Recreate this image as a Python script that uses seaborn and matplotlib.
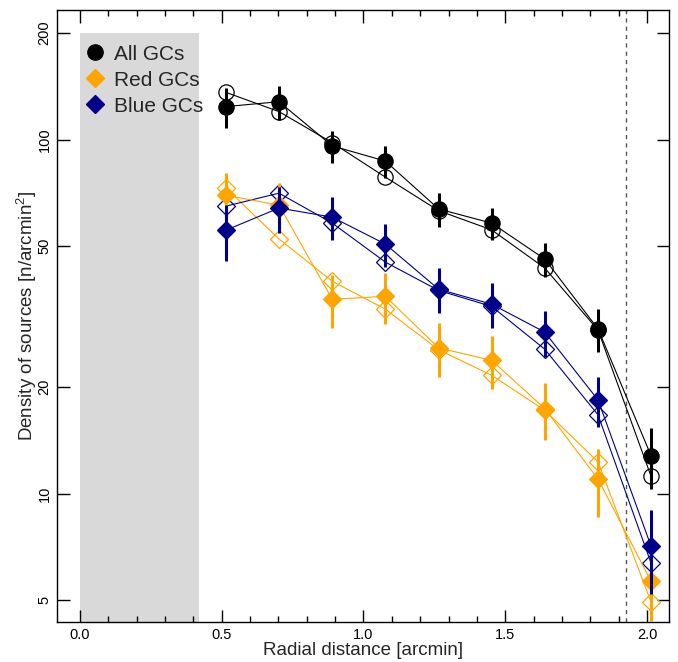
import matplotlib
matplotlib.use("Agg")
import pandas as pd
import matplotlib.pyplot as plt
from matplotlib.lines import Line2D
from matplotlib.ticker import FixedLocator, FixedFormatter, MultipleLocator, NullLocator
import seaborn as sns

# Radial bins [arcmin]
radius = [0.515, 0.702, 0.890, 1.077, 1.265, 1.452, 1.639, 1.827, 2.014]

# Density profiles: filled = with errors, open = second estimate
all_filled = [124, 128, 96, 87, 63.7, 58.1, 46.0, 29.2, 12.8]
all_err = [16, 14, 10, 9, 7, 6, 5, 4, 2.5]
all_open = [136, 120, 98, 78.4, 63.0, 55.6, 43.4, 29.0, 11.2]

red_filled = [69.7, 65.3, 35.4, 36.1, 25.8, 23.8, 17.4, 11.0, 5.66]
red_err = [11, 10, 6, 6, 4.5, 4, 3.2, 2.4, 1.6]
red_open = [73.0, 52.4, 39.8, 33.2, 25.5, 21.6, 17.2, 12.3, 4.94]

blue_filled = [55.5, 64.1, 60.4, 50.7, 37.8, 34.3, 28.6, 18.4, 7.11]
blue_err = [10, 9.5, 8.5, 7, 5.5, 5, 4.2, 3, 1.9]
blue_open = [64.9, 70.6, 58.1, 45.1, 37.5, 33.8, 25.6, 16.7, 6.37]

labels = ["All GCs", "Red GCs", "Blue GCs"]
y_ticks = [5, 10, 20, 50, 100, 200]

# set plot style
sns.set_style("ticks")
plt.rcParams["font.family"] = ["Liberation Sans", "DejaVu Sans"]
plt.rcParams["mathtext.fontset"] = "custom"
plt.rcParams["mathtext.rm"] = "Liberation Sans"

groups = [
    ("All GCs", "o", "black", all_filled, all_err, all_open, 11),
    ("Red GCs", "D", "#FFA500", red_filled, red_err, red_open, 9),
    ("Blue GCs", "D", "#00008B", blue_filled, blue_err, blue_open, 9),
]

fig = plt.figure(figsize=(6.78, 6.62), dpi=100)
ax = fig.add_axes([0.084, 0.0604, 0.903, 0.9245])

# excluded inner region
ax.fill_between([0, 0.42], 1, 200, color="#d9d9d9", lw=0, zorder=0)
ax.axvline(1.926, color="#555555", lw=1, ls=(0, (3, 3)), zorder=1)

for name, marker, color, filled, err, opened, ms in groups:
    df = pd.DataFrame({"r": radius, "filled": filled, "open": opened})
    sns.lineplot(data=df, x="r", y="open", ax=ax, color=color, lw=0.8,
                 marker=marker, markersize=ms, markerfacecolor="none",
                 markeredgecolor=color, markeredgewidth=0.9, zorder=2)
    sns.lineplot(data=df, x="r", y="filled", ax=ax, color=color, lw=0.8,
                 marker=marker, markersize=ms, markerfacecolor=color,
                 markeredgecolor=color, markeredgewidth=0.9, zorder=3)
    ax.errorbar(radius, filled, yerr=err, fmt="none", ecolor=color,
                elinewidth=2.2, capsize=0, zorder=3)

ax.set_yscale("log")
ax.set_xlim(-0.081, 2.078)
ax.set_ylim(4.34, 232.4)

ax.yaxis.set_major_locator(FixedLocator(y_ticks))
ax.yaxis.set_major_formatter(FixedFormatter([str(t) for t in y_ticks]))
ax.yaxis.set_minor_locator(NullLocator())
ax.xaxis.set_major_locator(MultipleLocator(0.5))
ax.xaxis.set_minor_locator(MultipleLocator(0.1))
ax.xaxis.set_major_formatter(plt.FuncFormatter(lambda v, p: f"{v:.1f}"))

ax.tick_params(which="both", direction="in", top=True, right=True,
               width=1, colors="black", labelsize=10.5)
ax.tick_params(which="major", length=9)
ax.tick_params(which="minor", length=4.5)
ax.tick_params(axis="x", pad=4)
ax.tick_params(axis="y", pad=4)
for lab in ax.get_yticklabels():
    lab.set_rotation(90)
    lab.set_va("center")

for sp in ax.spines.values():
    sp.set_linewidth(1)
    sp.set_color("black")

ax.set_xlabel("Radial distance [arcmin]", fontsize=13.5, labelpad=0)
ax.set_ylabel("Density of sources [n/arcmin$^2$]", fontsize=13.5, labelpad=-1)

handles = [Line2D([], [], ls="none", marker=m, color=c, markersize=s)
           for _, m, c, _, _, _, s in groups]
ax.legend(handles, labels, loc="upper left", bbox_to_anchor=(0.028, 0.964),
          frameon=False, fontsize=15, handlelength=0.8, handletextpad=0.5,
          labelspacing=0.34, borderaxespad=0.2)

fig.savefig("out.png", dpi=100)
plt.close(fig)
